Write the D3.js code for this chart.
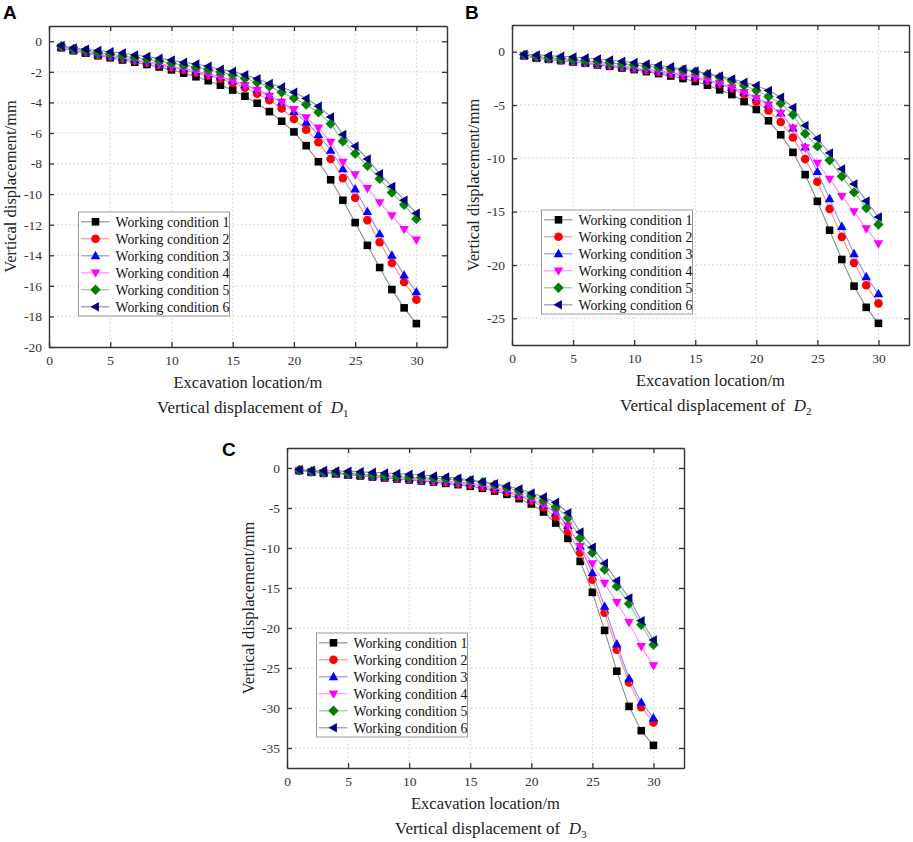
<!DOCTYPE html>
<html><head><meta charset="utf-8">
<script src="https://cdn.jsdelivr.net/npm/d3@7"></script>
<style>
body{margin:0;background:#fff}
svg{display:block}
text{font-family:"Liberation Serif","Times New Roman",serif}
</style>
</head><body>
<svg id="chart" width="913" height="842"></svg>
<script>
// ---------------- DATA ----------------
const locations = [1,2,3,4,5,6,7,8,9,10,11,12,13,14,15,16,17,18,19,20,21,22,23,24,25,26,27,28,29,30];
const seriesNames = ["Working condition 1","Working condition 2","Working condition 3","Working condition 4","Working condition 5","Working condition 6"];
const xTicks = [0,5,10,15,20,25,30];
const yTicksD1 = [0,-2,-4,-6,-8,-10,-12,-14,-16,-18,-20];
const yTicksD2 = [0,-5,-10,-15,-20,-25];
const yTicksD3 = [0,-5,-10,-15,-20,-25,-30,-35];

// D1 (panel A)
const D1_wc1 = [-0.42,-0.62,-0.78,-0.95,-1.08,-1.22,-1.37,-1.52,-1.68,-1.87,-2.08,-2.32,-2.58,-2.87,-3.19,-3.59,-4.05,-4.6,-5.23,-5.93,-6.83,-7.88,-9.06,-10.4,-11.86,-13.35,-14.8,-16.24,-17.44,-18.47];
const D1_wc2 = [-0.4,-0.58,-0.73,-0.89,-1.0,-1.13,-1.27,-1.4,-1.55,-1.71,-1.88,-2.06,-2.24,-2.45,-2.71,-3.04,-3.43,-3.85,-4.4,-5.08,-5.78,-6.6,-7.7,-8.95,-10.24,-11.7,-13.15,-14.5,-15.75,-16.9];
const D1_wc3 = [-0.38,-0.56,-0.7,-0.86,-0.97,-1.09,-1.22,-1.35,-1.49,-1.64,-1.8,-1.97,-2.15,-2.34,-2.56,-2.85,-3.15,-3.55,-3.98,-4.6,-5.3,-6.1,-7.13,-8.35,-9.67,-11.15,-12.6,-14.0,-15.3,-16.4];
const D1_wc4 = [-0.37,-0.55,-0.69,-0.85,-0.96,-1.08,-1.21,-1.34,-1.48,-1.63,-1.8,-1.98,-2.17,-2.37,-2.6,-2.89,-3.2,-3.59,-3.98,-4.46,-5.0,-5.67,-6.6,-7.9,-8.73,-9.63,-10.55,-11.4,-12.3,-13.0];
const D1_wc5 = [-0.32,-0.5,-0.61,-0.75,-0.85,-0.96,-1.07,-1.18,-1.3,-1.43,-1.56,-1.7,-1.85,-2.02,-2.21,-2.43,-2.69,-2.95,-3.33,-3.72,-4.14,-4.64,-5.4,-6.54,-7.35,-8.14,-9.0,-9.9,-10.7,-11.62];
const D1_wc6 = [-0.28,-0.44,-0.52,-0.6,-0.68,-0.77,-0.9,-1.0,-1.12,-1.23,-1.38,-1.49,-1.64,-1.84,-1.97,-2.19,-2.45,-2.76,-3.0,-3.33,-3.74,-4.25,-4.95,-6.1,-6.87,-7.7,-8.67,-9.5,-10.4,-11.25];

// D2 (panel B)
const D2_wc1 = [-0.4,-0.62,-0.72,-0.84,-0.97,-1.09,-1.25,-1.37,-1.53,-1.68,-1.87,-2.06,-2.28,-2.52,-2.8,-3.15,-3.58,-4.02,-4.68,-5.42,-6.48,-7.79,-9.44,-11.53,-14.03,-16.74,-19.48,-21.98,-23.97,-25.47];
const D2_wc2 = [-0.38,-0.58,-0.68,-0.8,-0.92,-1.03,-1.17,-1.29,-1.43,-1.57,-1.73,-1.9,-2.08,-2.27,-2.46,-2.74,-3.02,-3.46,-3.99,-4.68,-5.52,-6.6,-8.04,-10.07,-12.19,-14.74,-17.36,-19.8,-21.9,-23.6];
const D2_wc3 = [-0.36,-0.55,-0.65,-0.77,-0.88,-0.99,-1.12,-1.24,-1.37,-1.51,-1.66,-1.82,-1.99,-2.17,-2.37,-2.65,-2.96,-3.34,-3.8,-4.3,-4.93,-5.77,-7.17,-8.95,-11.25,-13.8,-16.4,-18.95,-21.1,-22.7];
const D2_wc4 = [-0.36,-0.55,-0.65,-0.77,-0.88,-0.99,-1.12,-1.24,-1.37,-1.51,-1.66,-1.82,-1.99,-2.17,-2.38,-2.65,-2.96,-3.37,-3.83,-4.36,-5.0,-5.77,-7.17,-9.0,-10.44,-11.94,-13.56,-15.0,-16.6,-18.0];
const D2_wc5 = [-0.3,-0.48,-0.56,-0.66,-0.75,-0.85,-0.95,-1.05,-1.15,-1.26,-1.37,-1.48,-1.6,-1.72,-1.87,-2.12,-2.4,-2.74,-3.18,-3.65,-4.2,-4.86,-5.92,-7.7,-8.88,-10.19,-11.69,-13.19,-14.65,-16.2];
const D2_wc6 = [-0.25,-0.31,-0.37,-0.44,-0.5,-0.59,-0.69,-0.78,-0.9,-1.03,-1.15,-1.28,-1.43,-1.62,-1.81,-2.06,-2.28,-2.56,-2.87,-3.18,-3.65,-4.27,-5.24,-6.92,-8.14,-9.5,-11.0,-12.4,-14.0,-15.5];

// D3 (panel C)
const D3_wc1 = [-0.33,-0.54,-0.67,-0.75,-0.88,-1.0,-1.13,-1.25,-1.38,-1.5,-1.63,-1.75,-1.92,-2.08,-2.29,-2.54,-2.88,-3.29,-3.83,-4.5,-5.5,-6.88,-8.8,-11.67,-15.54,-20.3,-25.4,-29.8,-32.83,-34.67];
const D3_wc2 = [-0.32,-0.5,-0.62,-0.7,-0.82,-0.93,-1.05,-1.16,-1.28,-1.4,-1.52,-1.64,-1.78,-1.93,-2.1,-2.38,-2.67,-3.04,-3.54,-4.1,-4.9,-6.1,-7.9,-10.6,-13.96,-18.1,-22.7,-26.8,-29.9,-31.8];
const D3_wc3 = [-0.3,-0.48,-0.6,-0.67,-0.78,-0.89,-1.0,-1.1,-1.21,-1.32,-1.43,-1.55,-1.67,-1.8,-1.92,-2.17,-2.46,-2.83,-3.3,-3.9,-4.6,-5.6,-7.2,-9.8,-13.1,-17.3,-22.0,-26.3,-29.3,-31.25];
const D3_wc4 = [-0.3,-0.48,-0.6,-0.67,-0.78,-0.89,-1.0,-1.1,-1.22,-1.34,-1.46,-1.58,-1.7,-1.83,-1.95,-2.2,-2.5,-2.86,-3.3,-3.9,-4.6,-5.5,-7.2,-9.8,-11.96,-14.4,-16.8,-19.3,-22.3,-24.7];
const D3_wc5 = [-0.25,-0.42,-0.52,-0.58,-0.68,-0.77,-0.87,-0.96,-1.06,-1.15,-1.22,-1.3,-1.38,-1.46,-1.58,-1.79,-2.08,-2.46,-2.88,-3.46,-4.08,-4.88,-6.25,-8.75,-10.6,-12.7,-14.8,-16.96,-19.6,-22.1];
const D3_wc6 = [-0.18,-0.28,-0.33,-0.37,-0.42,-0.48,-0.55,-0.62,-0.7,-0.78,-0.88,-1.0,-1.13,-1.29,-1.46,-1.71,-1.96,-2.25,-2.63,-3.13,-3.63,-4.3,-5.6,-8.0,-9.9,-11.9,-14.1,-16.25,-19.1,-21.5];

// ---------------- STYLE / LAYOUT ----------------
const lineColors = ["#8a8a8a","#ff8a8a","#8a8aff","#ff8aff","#80c880","#8a8ac0"];
const markColors = ["#000000","#ff0000","#0000ff","#ff00ff","#008000","#000080"];
const markShapes = ["square","circle","up","down","diamond","left"];

const panels = [
  {letter:"A", lx:3,  ly:19, left:49,  top:26,  width:398, height:321, yDomain:[-20,1],    yTicks:yTicksD1, sub:"1",
   series:[D1_wc1,D1_wc2,D1_wc3,D1_wc4,D1_wc5,D1_wc6]},
  {letter:"B", lx:465, ly:19, left:512, top:25,  width:397, height:320, yDomain:[-27.5,2.5], yTicks:yTicksD2, sub:"2",
   series:[D2_wc1,D2_wc2,D2_wc3,D2_wc4,D2_wc5,D2_wc6]},
  {letter:"C", lx:222, ly:456, left:287, top:448, width:397, height:320, yDomain:[-37.5,2.5], yTicks:yTicksD3, sub:"3",
   series:[D3_wc1,D3_wc2,D3_wc3,D3_wc4,D3_wc5,D3_wc6]}
];

function markerPath(t){
  switch(t){
    case "square": return "M-3.8,-3.8h7.6v7.6h-7.6Z";
    case "circle": {const r=4.3; return `M${r},0A${r},${r} 0 1,1 ${-r},0A${r},${r} 0 1,1 ${r},0Z`;}
    case "up": return "M0,-5L4.8,3.4L-4.8,3.4Z";
    case "down": return "M0,5L4.8,-3.4L-4.8,-3.4Z";
    case "diamond": return "M0,-5.2L5.2,0L0,5.2L-5.2,0Z";
    case "left": return "M-5,0L3.4,-4.8L3.4,4.8Z";
  }
}

const svg = d3.select("#chart");
const fmt = v => (v<0 ? "-" + Math.abs(v) : String(v));

function drawPanel(p){
  const g = svg.append("g");
  const x = d3.scaleLinear().domain([0,32.5]).range([p.left, p.left+p.width]);
  const y = d3.scaleLinear().domain(p.yDomain).range([p.top+p.height, p.top]);

  // grid
  const grid = g.append("g").attr("stroke","#cfcfcf").attr("stroke-width",1).attr("stroke-dasharray","1.5,2.5");
  grid.selectAll("line.gx").data(xTicks.filter(v=>v>0)).join("line")
    .attr("x1",d=>x(d)).attr("x2",d=>x(d)).attr("y1",p.top).attr("y2",p.top+p.height);
  grid.selectAll("line.gy").data(p.yTicks.filter(v=>v>p.yDomain[0])).join("line")
    .attr("y1",d=>y(d)).attr("y2",d=>y(d)).attr("x1",p.left).attr("x2",p.left+p.width);

  // series
  p.series.forEach((vals,i)=>{
    const pts = locations.map((l,k)=>[l,vals[k]]);
    g.append("path").datum(pts)
      .attr("fill","none").attr("stroke",lineColors[i]).attr("stroke-width",1.1)
      .attr("d", d3.line().x(d=>x(d[0])).y(d=>y(d[1])));
    g.append("g").selectAll("path").data(pts).join("path")
      .attr("d", markerPath(markShapes[i]))
      .attr("transform", d=>`translate(${x(d[0])},${y(d[1])})`)
      .attr("fill", markColors[i]);
  });

  // axes
  const styleAxis = sel => {
    sel.select(".domain").attr("stroke","#333").attr("stroke-width",1.4);
    sel.selectAll(".tick line").attr("stroke","#333").attr("stroke-width",1.3);
    sel.selectAll(".tick text").attr("fill","#333").style("font-size","13.5px").style("font-family","'Liberation Serif',serif");
  };
  g.append("g").attr("transform",`translate(0,${p.top+p.height})`)
    .call(d3.axisBottom(x).tickValues(xTicks).tickFormat(fmt).tickSizeInner(-5).tickSizeOuter(0).tickPadding(8)).call(styleAxis);
  g.append("g").attr("transform",`translate(0,${p.top})`)
    .call(d3.axisTop(x).tickValues(xTicks).tickFormat("").tickSizeInner(-5).tickSizeOuter(0)).call(styleAxis);
  g.append("g").attr("transform",`translate(${p.left},0)`)
    .call(d3.axisLeft(y).tickValues(p.yTicks).tickFormat(fmt).tickSizeInner(-5).tickSizeOuter(0).tickPadding(7)).call(styleAxis);
  g.append("g").attr("transform",`translate(${p.left+p.width},0)`)
    .call(d3.axisRight(y).tickValues(p.yTicks).tickFormat("").tickSizeInner(-5).tickSizeOuter(0)).call(styleAxis);

  // axis titles
  g.append("text").attr("x", p.left+p.width/2).attr("y", p.top+p.height+41)
    .attr("text-anchor","middle").attr("fill","#222").style("font-size","16.5px").text("Excavation location/m");
  g.append("text").attr("transform",`translate(${p.left-39},${p.top+p.height/2}) rotate(-90)`)
    .attr("text-anchor","middle").attr("dy","0.35em").attr("fill","#222").style("font-size","16.5px").text("Vertical displacement/mm");

  // caption
  const cap = g.append("text").attr("x", p.left+108).attr("y", p.top+p.height+66)
    .attr("fill","#222").style("font-size","17px");
  cap.append("tspan").text("Vertical displacement of\u00a0\u00a0");
  cap.append("tspan").style("font-style","italic").text("D");
  cap.append("tspan").attr("dy",4).style("font-size","11px").text(p.sub);

  // panel letter
  svg.append("text").attr("x",p.lx).attr("y",p.ly)
    .style("font-family","'Liberation Sans',Arial,sans-serif").style("font-weight","bold").style("font-size","19px")
    .attr("fill","#000").text(p.letter);

  // legend
  const lg = g.append("g").attr("transform",`translate(${p.left+29.5},${p.top+p.height-135})`);
  lg.append("rect").attr("x",0).attr("y",0).attr("width",151).attr("height",104)
    .attr("fill","#fff").attr("stroke","#999").attr("stroke-width",1);
  seriesNames.forEach((name,i)=>{
    const yy = 9.8 + i*17;
    lg.append("line").attr("x1",2.5).attr("x2",31).attr("y1",yy).attr("y2",yy)
      .attr("stroke",lineColors[i]).attr("stroke-width",1.1);
    lg.append("path").attr("d",markerPath(markShapes[i])).attr("transform",`translate(17,${yy})`).attr("fill",markColors[i]);
    lg.append("text").attr("x",37).attr("y",yy).attr("dy","0.35em").attr("fill","#111")
      .style("font-size","13.8px").text(name);
  });
}

panels.forEach(drawPanel);
</script>
</body></html>
